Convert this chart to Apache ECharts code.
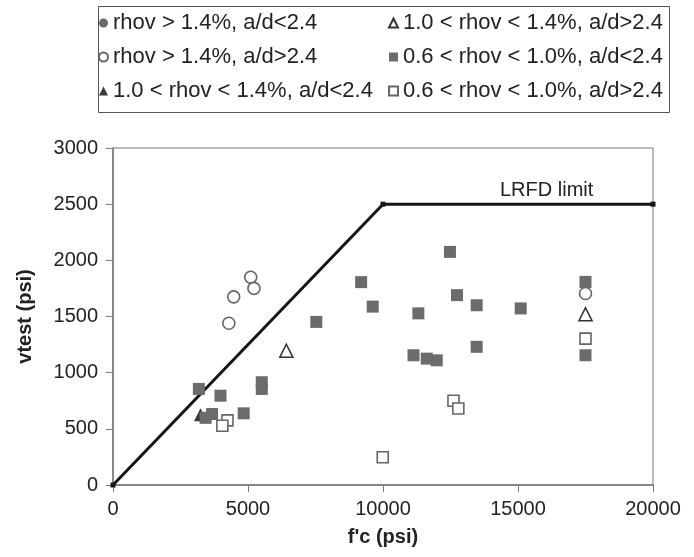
<!DOCTYPE html>
<html><head><meta charset="utf-8">
<script src="https://cdn.jsdelivr.net/npm/echarts@6/dist/echarts.min.js"></script>
<style>html,body{margin:0;padding:0;background:#fff}#c{width:694px;height:557px}</style>
</head><body><div id="c"></div>
<script>
// ---- data ----
const seriesNames = [
  'rhov > 1.4%, a/d<2.4',
  'rhov > 1.4%, a/d>2.4',
  '1.0 < rhov < 1.4%, a/d<2.4',
  '1.0 < rhov < 1.4%, a/d>2.4',
  '0.6 < rhov < 1.0%, a/d<2.4',
  '0.6 < rhov < 1.0%, a/d>2.4'
];
const filledCircle = [];
const openCircle = [[5100,1850],[5220,1750],[4470,1675],[4290,1440],[17500,1705]];
const filledTriangle = [[3240,625]];
const openTriangle = [[6420,1195],[17500,1520]];
const filledSquare = [
  [3180,855],[3980,795],[3670,632],[3430,598],[4840,638],[5510,915],[5510,855],
  [7530,1452],[9190,1806],[9620,1588],[11130,1155],[11310,1528],[11620,1125],
  [11990,1110],[12480,2075],[12740,1690],[13470,1600],[13470,1230],[15100,1572],
  [17500,1808],[17500,1155]
];
const openSquare = [[4240,575],[4050,528],[9990,247],[12610,750],[12790,681],[17500,1303]];
const lrfdX = [0,10000,20000];
const lrfdY = [0,2500,2500];
const xTicks = [0,5000,10000,15000,20000];
const yTicks = [0,500,1000,1500,2000,2500,3000];

const FONT = '"Liberation Sans", Arial, sans-serif';
const chart = echarts.init(document.getElementById('c'), null, {renderer:'canvas'});
const lrfd = lrfdX.map((x,i)=>[x,lrfdY[i]]);

function sc(name, data, symbol, size, fill, border, bw){
  return {
    name, type:'scatter', data, symbol, symbolSize:size, z:3,
    itemStyle:{color:fill, borderColor:border, borderWidth:bw, opacity:1},
    emphasis:{disabled:true}
  };
}
const legendText = {fontFamily:FONT, fontSize:22, color:'#222', lineHeight:22};
chart.setOption({
  animation:false,
  backgroundColor:'#fff',
  grid:{left:113, right:41, top:148, bottom:72, show:true, borderColor:'#777', borderWidth:1},
  legend:[
    {orient:'vertical', left:98, top:12, padding:0, itemGap:12, itemWidth:9, itemHeight:9,
     data:seriesNames.slice(0,3), textStyle:legendText, selectedMode:false},
    {orient:'vertical', left:388, top:12, padding:0, itemGap:12, itemWidth:9, itemHeight:9,
     data:seriesNames.slice(3,6), textStyle:legendText, selectedMode:false}
  ],
  graphic:[
    {type:'rect', left:96, top:4, shape:{width:571, height:106}, style:{fill:'none', stroke:'#555', lineWidth:1}, z:-1},
    {type:'text', left:500, top:180, style:{text:'LRFD limit', font:'20px '+FONT, fill:'#222'}}
  ],
  xAxis:{
    type:'value', min:xTicks[0], max:xTicks[xTicks.length-1], interval:5000,
    name:"f'c (psi)", nameLocation:'middle', nameGap:42,
    nameTextStyle:{fontFamily:FONT, fontSize:20, fontWeight:'bold', color:'#222'},
    axisLine:{show:true, onZero:false, lineStyle:{color:'#777', width:1.5}},
    axisTick:{show:true, inside:false, length:7, lineStyle:{color:'#777'}},
    axisLabel:{fontFamily:FONT, fontSize:20, color:'#222', margin:14, formatter:v=>String(v)},
    splitLine:{show:false}
  },
  yAxis:{
    type:'value', min:yTicks[0], max:yTicks[yTicks.length-1], interval:500,
    name:'vtest (psi)', nameLocation:'middle', nameGap:78,
    nameTextStyle:{fontFamily:FONT, fontSize:20, fontWeight:'bold', color:'#222'},
    axisLine:{show:true, onZero:false, lineStyle:{color:'#777', width:1.5}},
    axisTick:{show:true, inside:false, length:7, lineStyle:{color:'#777'}},
    axisLabel:{fontFamily:FONT, fontSize:20, color:'#222', margin:15, formatter:v=>String(v)},
    splitLine:{show:false}
  },
  series:[
    {name:'LRFD', type:'line', data:lrfd, symbol:'rect', symbolSize:5, z:2,
     lineStyle:{color:'#151515', width:3}, itemStyle:{color:'#151515'}, emphasis:{disabled:true}},
    sc(seriesNames[0], filledCircle, 'circle', 11, '#6b6b6b', '#6b6b6b', 0),
    sc(seriesNames[1], openCircle, 'circle', 12, '#fff', '#666', 1.6),
    sc(seriesNames[2], filledTriangle, 'triangle', 13, '#3a3a3a', '#3a3a3a', 0),
    sc(seriesNames[3], openTriangle, 'triangle', 13, '#fff', '#333', 1.6),
    sc(seriesNames[4], filledSquare, 'rect', 12, '#6b6b6b', '#6b6b6b', 0),
    sc(seriesNames[5], openSquare, 'rect', 11, '#fff', '#666', 1.6)
  ]
});
</script></body></html>
